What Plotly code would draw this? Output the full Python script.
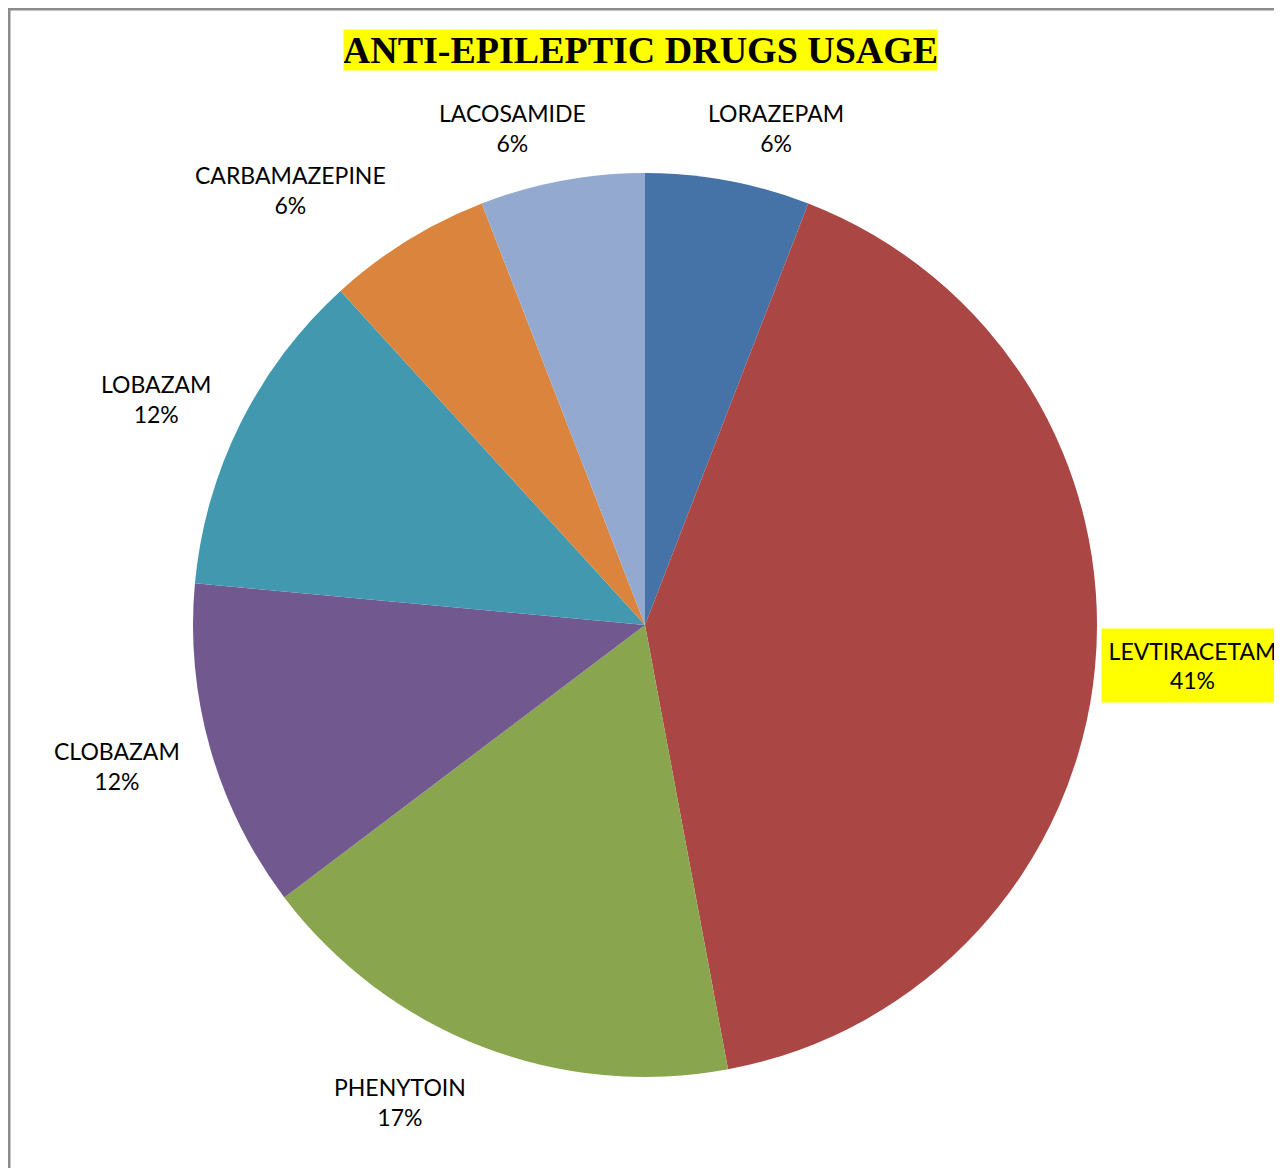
import plotly.graph_objects as go

# Data
drugs = ["LORAZEPAM", "LEVTIRACETAM", "PHENYTOIN", "CLOBAZAM", "LOBAZAM",
         "CARBAMAZEPINE", "LACOSAMIDE"]
counts = [1, 7, 3, 2, 2, 1, 1]
pct_labels = ["6%", "41%", "17%", "12%", "12%", "6%", "6%"]
colors = ["#4572A7", "#AA4643", "#89A54E", "#71588F", "#4198AF",
          "#DB843D", "#93A9CF"]

OFF = 8  # page body margin
W, H = 1282 - OFF, 1168 - OFF
cx, cy, r = 645 - OFF, 625 - OFF, 452

# label centre positions (pixels, screen coords) for each slice label
label_pos = {
    "LORAZEPAM": (776, 128),
    "LEVTIRACETAM": (1192, 665),
    "PHENYTOIN": (400, 1102),
    "CLOBAZAM": (117, 766),
    "LOBAZAM": (156, 399),
    "CARBAMAZEPINE": (290, 190),
    "LACOSAMIDE": (512, 128),
}

fig = go.Figure(go.Pie(
    labels=drugs, values=counts, sort=False, direction="clockwise",
    rotation=0, textinfo="none", hoverinfo="label+percent",
    marker=dict(colors=colors, line=dict(width=0)),
    domain=dict(x=[(cx - r) / W, (cx + r) / W], y=[1 - (cy + r) / H, 1 - (cy - r) / H]),
    showlegend=False,
))

annotations = []
for name, pct in zip(drugs, pct_labels):
    px, py = label_pos[name]
    a = dict(text=f"{name}<br>{pct}", x=(px - OFF) / W, y=1 - (py - OFF) / H,
             xref="paper", yref="paper",
             xanchor="center", yanchor="middle", showarrow=False,
             font=dict(family="Lato", size=23, color="#000000"), align="center")
    if name == "LEVTIRACETAM":
        a.update(bgcolor="#FFFF00", width=181, height=73, borderpad=0)
    annotations.append(a)

annotations.append(dict(
    text="<b>ANTI-EPILEPTIC DRUGS USAGE</b>", x=(640.5 - OFF) / W, y=1 - (50 - OFF) / H,
    xref="paper", yref="paper", xanchor="center", yanchor="middle", showarrow=False,
    font=dict(family="Liberation Serif", size=38, color="#000000"),
    bgcolor="#FFFF00", width=593, height=40, borderpad=0))

fig.update_layout(
    width=W, height=H, margin=dict(l=0, r=0, t=0, b=0),
    paper_bgcolor="#FFFFFF", plot_bgcolor="#FFFFFF",
    annotations=annotations,
    shapes=[dict(type="rect", xref="paper", yref="paper",
                 x0=1.25 / W, x1=1.05, y0=-0.05, y1=1 - 1.25 / H,
                 line=dict(color="#8C8C8C", width=2.5), fillcolor="rgba(0,0,0,0)")],
)

fig.write_html("out.html")
